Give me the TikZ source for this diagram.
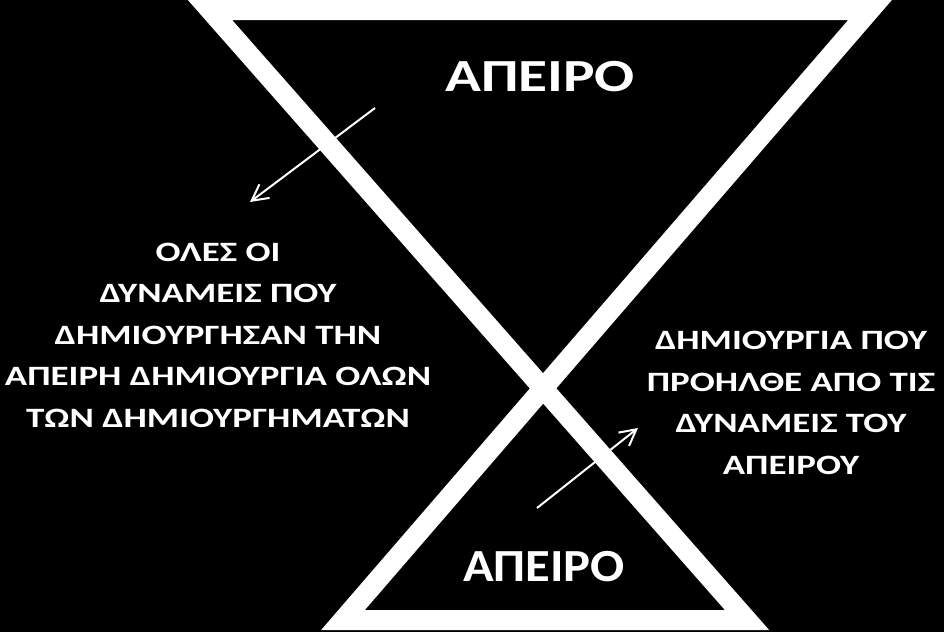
\documentclass[tikz,border=0pt]{standalone}
\usepackage{fontspec}
\setmainfont{Carlito}
\newfontfamily\widefont{Carlito}[FakeStretch=1.32]
\newfontfamily\topfont{Carlito}[FakeStretch=1.29]
\newfontfamily\botfont{Carlito}[FakeStretch=1.1]
\usetikzlibrary{arrows.meta}
\begin{document}
\begin{tikzpicture}[x=1pt,y=-1pt,
		label/.style={text=white,font=\widefont\bfseries\fontsize{28}{41.5}\selectfont,align=center},
		title/.style={text=white,font=\bfseries\fontsize{46}{50}\selectfont},
		pointer/.style={white,line width=2pt,-{Straight Barb[length=16pt,width=17pt,line width=2pt]}}]
	\useasboundingbox (0,0) rectangle (944,632);
	\fill[black] (0,0) rectangle (944,632);
	% hourglass
	\draw[white,line width=20pt,line join=miter] (210,10) -- (747,620) -- (343,620) -- (870,10) -- cycle;
	\node[title] (topinf) at (540,77) {\topfont ΑΠΕΙΡΟ};
	\node[title] (botinf) at (544,567) {\botfont ΑΠΕΙΡΟ};
	\node[label] (forces) at (218,335) {ΟΛΕΣ ΟΙ\\ΔΥΝΑΜΕΙΣ ΠΟΥ\\ΔΗΜΙΟΥΡΓΗΣΑΝ ΤΗΝ\\ΑΠΕΙΡΗ ΔΗΜΙΟΥΡΓΙΑ ΟΛΩΝ\\ΤΩΝ ΔΗΜΙΟΥΡΓΗΜΑΤΩΝ};
	\node[label] (creation) at (791,403) {ΔΗΜΙΟΥΡΓΙΑ ΠΟΥ\\ΠΡΟΗΛΘΕ ΑΠΟ ΤΙΣ\\ΔΥΝΑΜΕΙΣ ΤΟΥ\\ΑΠΕΙΡΟΥ};
	% arrows
	\coordinate (outS) at (375,108);
	\coordinate (outE) at (250,202);
	\coordinate (inS) at (537,508);
	\coordinate (inE) at (638,428);
	\draw[pointer] (outS) -- (outE);
	\draw[pointer] (inS) -- (inE);
\end{tikzpicture}
\end{document}
